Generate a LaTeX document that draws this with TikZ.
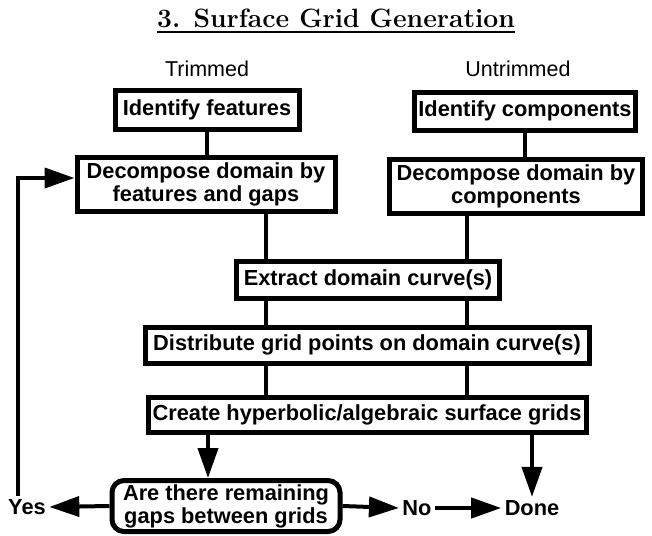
\documentclass[tikz,border=0pt]{standalone}
\usepackage{fontspec}
\newfontfamily\helv{Liberation Sans}
\usetikzlibrary{arrows.meta}
\newcommand{\boxfont}{\helv\bfseries\fontsize{21.8}{23}\selectfont}
\newcommand{\headfont}{\helv\fontsize{21.5}{23}\selectfont}
\begin{document}
\begin{tikzpicture}[x=1pt,y=-1pt]
    \tikzstyle{box}=[draw, line width=5pt, fill=white, inner sep=0pt, align=center, font=\boxfont]
    \tikzstyle{link}=[line width=4pt]
    \tikzstyle{arr}=[line width=4pt, -{Triangle[length=30pt,width=20pt]}]
    \useasboundingbox (0,0) rectangle (652,535);
    \node[inner sep=0pt, anchor=base, font=\bfseries\fontsize{26.5}{30}\selectfont] (title) at (336,28){3. Surface Grid Generation};
    \draw[line width=1.6pt] ([yshift=-4pt]title.base west) -- ([yshift=-4pt]title.base east);
    \node[font=\headfont] (trim) at (207,69){Trimmed};
    \node[font=\headfont] (untrim) at (518,69){Untrimmed};
    \node[box, minimum width=184pt, minimum height=39pt] (feat) at (207,110){Identify features};
    \node[box, minimum width=221pt, minimum height=38pt] (comp) at (525,111){Identify components};
    \node[box, minimum width=258pt, minimum height=54pt] (decT) at (206,184){Decompose domain by\\features and gaps};
    \node[box, minimum width=253pt, minimum height=54pt] (decU) at (516,186){Decompose domain by\\components};
    \node[box, minimum width=263pt, minimum height=37pt] (extr) at (368,280){Extract domain curve(s)};
    \node[box, minimum width=444pt, minimum height=36pt] (dist) at (367,345){Distribute grid points on domain curve(s)};
    \node[box, minimum width=438pt, minimum height=35pt] (crea) at (367,415){Create hyperbolic/algebraic surface grids};
    \node[box, rounded corners=12pt, minimum width=228pt, minimum height=51pt] (gaps) at (226,506){Are there remaining\\gaps between grids};
    \node[font=\boxfont] (yes) at (27,507){Yes};
    \node[font=\boxfont] (no) at (417,508){No};
    \node[font=\boxfont] (done) at (532,508){Done};
    \coordinate (colA) at (208,0);
    \coordinate (colL) at (266,0);
    \coordinate (colR) at (467,0);
    \draw[link] (feat.south) -- (feat.south |- decT.north);
    \draw[link] (comp.south) -- (comp.south |- decU.north);
    \draw[link] (decT.south -| colL) -- (extr.north -| colL);
    \draw[link] (decU.south -| colR) -- (extr.north -| colR);
    \foreach \c in {colL,colR}{
        \draw[link] (extr.south -| \c) -- (dist.north -| \c);
        \draw[link] (dist.south -| \c) -- (crea.north -| \c);
    }
    \draw[arr] (crea.south -| colA) -- (gaps.north -| colA);
    \draw[arr] (crea.south -| done) -- (done.north);
    \draw[arr] (gaps.west) -- (yes.east);
    \draw[arr] (gaps.east) -- (no.west);
    \draw[arr] (no.east) -- (done.west);
    %\draw[arr] (yes.north) |- (decT.west);
    \draw[arr] ([xshift=-9pt]yes.north) |- ([yshift=6pt]decT.west);
\end{tikzpicture}
\end{document}
